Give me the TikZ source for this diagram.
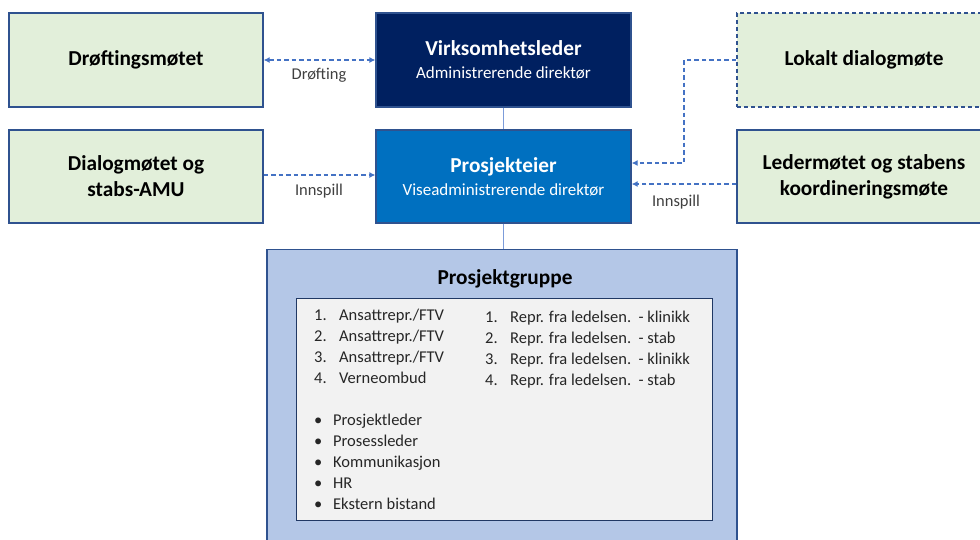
\documentclass[tikz,border=0pt]{standalone}
\usepackage{fontspec}
\setmainfont{Carlito}
\usetikzlibrary{arrows.meta}
\definecolor{navy}{HTML}{002060}
\definecolor{midblue}{HTML}{0070C0}
\definecolor{greenfill}{HTML}{E2EFDA}
\definecolor{boxborder}{HTML}{2F528F}
\definecolor{groupfill}{HTML}{B4C7E7}
\definecolor{innerfill}{HTML}{F2F2F2}
\definecolor{innerborder}{HTML}{203864}
\definecolor{arrowblue}{HTML}{4472C4}
\definecolor{linkblue}{HTML}{7C9CDA}
\definecolor{lblgray}{HTML}{404040}
\begin{document}
\begin{tikzpicture}[x=1pt,y=-1pt,
  greenbox/.style={draw=boxborder, line width=1.2pt, fill=greenfill, minimum width=254pt, minimum height=94pt, inner sep=0pt, align=center, font=\fontsize{21.3}{26}\selectfont\bfseries},
  bluebox/.style={draw=boxborder, line width=1.2pt, minimum width=255pt, minimum height=94pt, inner sep=0pt, align=center, text=white, font=\fontsize{21.3}{23}\selectfont\bfseries},
  lbl/.style={font=\fontsize{16.5}{20}\selectfont, text=lblgray, inner sep=0pt},
  listtext/.style={font=\fontsize{16.5}{21}\selectfont, text=black!85, inner sep=0pt, align=left},
  dasharrow/.style={draw=arrowblue, line width=1.2pt, dash pattern=on 4.5pt off 3pt},
  tip/.style={-{Latex[length=6pt,width=6pt]}},
  linkline/.style={draw=linkblue, line width=1.5pt}
]
\useasboundingbox (0,0) rectangle (980,539);
\clip (0,0) rectangle (980,539);

% top left boxes
\node[greenbox] (drof) at (136,60) {Drøftingsmøtet};
\node[greenbox, minimum height=93pt] (dialog) at (136,176.5) {Dialogmøtet og\\stabs-AMU};

% center boxes
\node[bluebox, fill=navy] (virk) at (503.5,60) {Virksomhetsleder\\{\fontsize{17}{23}\selectfont\mdseries Administrerende direktør}};
\node[bluebox, fill=midblue, minimum height=93pt] (prosj) at (503.5,176.5) {Prosjekteier\\{\fontsize{17}{23}\selectfont\mdseries Viseadministrerende direktør}};

% right boxes
\node[greenbox, dash pattern=on 4pt off 3pt] (lokal) at (864,60) {Lokalt dialogmøte};
\node[greenbox, minimum height=93pt] (leder) at (864,176.5) {Ledermøtet og stabens\\koordineringsmøte};

% project group
\node[draw=boxborder, line width=1.2pt, fill=groupfill, minimum width=470pt, minimum height=320pt, inner sep=0pt, anchor=north] (gruppe) at (502,249) {};
\node[font=\fontsize{21.3}{25}\selectfont\bfseries, inner sep=0pt] (gruppetitle) at (505,279) {Prosjektgruppe};
\node[draw=innerborder, line width=1.2pt, fill=innerfill, minimum width=416pt, minimum height=222pt, inner sep=0pt, anchor=north west] (inner) at (296,298) {};

\node[listtext, anchor=north west] (listA) at (314,309) {\makebox[25pt][l]{1.}Ansattrepr./FTV\\\makebox[25pt][l]{2.}Ansattrepr./FTV\\\makebox[25pt][l]{3.}Ansattrepr./FTV\\\makebox[25pt][l]{4.}Verneombud};
\node[listtext, anchor=north west] (listB) at (314,414) {\makebox[19pt][l]{\textbullet}Prosjektleder\\\makebox[19pt][l]{\textbullet}Prosessleder\\\makebox[19pt][l]{\textbullet}Kommunikasjon\\\makebox[19pt][l]{\textbullet}HR\\\makebox[19pt][l]{\textbullet}Ekstern bistand};
\node[listtext, anchor=north west] (listC) at (485,311) {\makebox[25pt][l]{1.}Repr. fra ledelsen.\ \ - klinikk\\\makebox[25pt][l]{2.}Repr. fra ledelsen.\ \ - stab\\\makebox[25pt][l]{3.}Repr. fra ledelsen.\ \ - klinikk\\\makebox[25pt][l]{4.}Repr. fra ledelsen.\ \ - stab};

% solid links
\draw[linkline] (virk.south) -- (prosj.north);
\draw[linkline] (prosj.south) -- (prosj.south |- gruppe.north);

% dashed arrows
\draw[dasharrow, {Latex[length=6pt,width=6pt]}-{Latex[length=6pt,width=6pt]}] (drof.east) -- (virk.west);
\node[lbl] (lblA) at (319,75) {Drøfting};
\draw[dasharrow, tip] ([yshift=1.5pt]dialog.east) -- ([yshift=1.5pt]dialog.east -| prosj.west);
\node[lbl] (lblB) at (319,191) {Innspill};
\coordinate (bend) at (684,60);
\draw[dasharrow, tip] (lokal.west) -- (bend) |- ([yshift=13.5pt]prosj.east);
\draw[dasharrow, tip] ([yshift=-7.5pt]leder.west) -- ([yshift=-7.5pt]leder.west -| prosj.east);
\node[lbl] (lblC) at (676,202) {Innspill};
\end{tikzpicture}
\end{document}
